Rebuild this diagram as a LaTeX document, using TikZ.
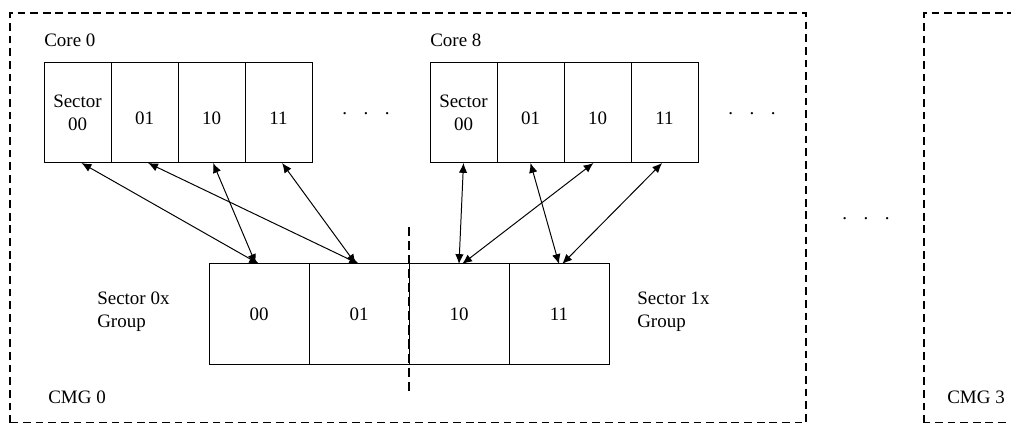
\documentclass[tikz,border=0pt]{standalone}
\usepackage{fontspec}
\setmainfont{Liberation Serif}
\usetikzlibrary{arrows.meta,positioning,calc}
\newcommand{\ellip}{.\hspace{0.41cm}.\hspace{0.41cm}.}
\tikzset{
  cell/.style={rectangle, draw=black, line width=0.7pt, minimum width=1.675cm, minimum height=2.5cm,
               inner sep=0pt, outer sep=0pt, align=center},
  grpcell/.style={cell, minimum width=2.5cm},
  cmgbox/.style={draw=black, line width=1.6pt, dash pattern=on 5.5pt off 3.5pt},
  divider/.style={draw=black, line width=1.6pt, dash pattern=on 6.5pt off 3.5pt},
  lbl/.style={inner sep=0pt, align=left, anchor=west},
  more/.style={inner sep=0pt, anchor=base},
  link/.style={{Latex[length=7pt,width=6pt]}-{Latex[length=7pt,width=6pt]}, line width=0.7pt},
}

\begin{document}
\begin{tikzpicture}[x=1cm,y=1cm, every node/.style={font=\fontsize{13.5}{16}\selectfont}]
\useasboundingbox (0,0) rectangle (25.275,10.575);

% the two CMG frames
\draw[cmgbox] (0.25,0.0) rectangle (20.15,10.25);
\draw[cmgbox] (23.1,0.0) rectangle (27.0,10.25);

% core 0
\node[lbl] (core0) at (1.1,9.575) {Core 0};
\node[cell] (c0a) at (1.9375,7.75) {Sector\\00};
\node[cell, right=0pt of c0a] (c0b) {\mbox{}\\01};
\node[cell, right=0pt of c0b] (c0c) {\mbox{}\\10};
\node[cell, right=0pt of c0c] (c0d) {\mbox{}\\11};
\node[more] (dots0) at (9.15,7.71) {\ellip};

% core 8
\node[lbl] (core8) at (10.75,9.575) {Core 8};
\node[cell] (c8a) at (11.5875,7.75) {Sector\\00};
\node[cell, right=0pt of c8a] (c8b) {\mbox{}\\01};
\node[cell, right=0pt of c8b] (c8c) {\mbox{}\\10};
\node[cell, right=0pt of c8c] (c8d) {\mbox{}\\11};
\node[more] (dots8) at (18.8,7.71) {\ellip};

% sector groups
\node[grpcell] (g00) at (6.475,2.725) {00};
\node[grpcell, right=0pt of g00] (g01) {01};
\node[grpcell, right=0pt of g01] (g10) {10};
\node[grpcell, right=0pt of g10] (g11) {11};
\node[lbl] (grp0) at (2.425,2.7875) {Sector 0x\\Group};
\node[lbl] (grp1) at (15.925,2.7875) {Sector 1x\\Group};
\draw[divider] ([yshift=0.925cm]g01.north east) -- ([yshift=-0.675cm]g01.south east);

\draw[link] ([xshift=0.1cm]c0a.south) -- (g00.north); \draw[link] ([xshift=0.09cm]c0b.south) -- (g01.north);
\draw[link] ([xshift=0.04cm]c0c.south) -- ([xshift=-0.08cm]g00.north); \draw[link] ([xshift=0.09cm]c0d.south) -- ([xshift=-0.08cm]g01.north);
\draw[link] (c8a.south) -- (g10.north); \draw[link] (c8b.south) -- (g11.north);
\draw[link] ([xshift=-0.1cm]c8c.south) -- ([xshift=0.08cm]g10.north); \draw[link] ([xshift=-0.06cm]c8d.south) -- ([xshift=0.08cm]g11.north);

% between the CMGs
\node[more] (dotsmid) at (21.65,5.09) {\ellip};
\node[lbl] (cmg0) at (1.2,0.65) {CMG 0};
\node[lbl] (cmg3) at (23.675,0.63) {CMG 3};
\end{tikzpicture}
\end{document}
